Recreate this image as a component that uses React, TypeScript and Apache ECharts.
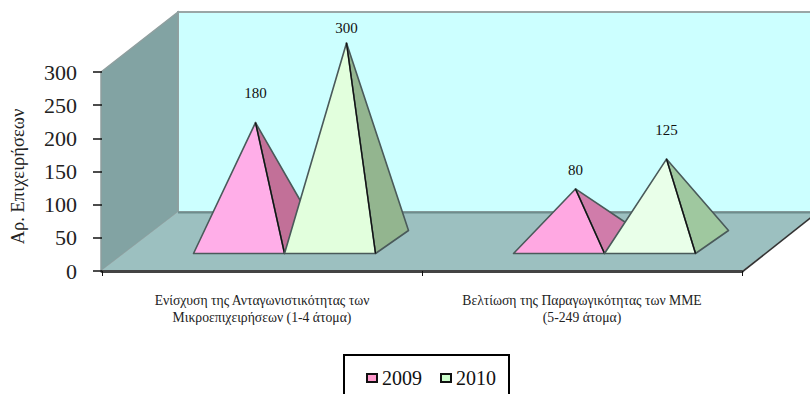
import React, { useEffect, useRef } from "react";
import * as echarts from "echarts";

const categories = [
  "Ενίσχυση της Ανταγωνιστικότητας των\nΜικροεπιχειρήσεων (1-4 άτομα)",
  "Βελτίωση της Παραγωγικότητας των ΜΜΕ\n(5-249 άτομα)",
];
const seriesNames = ["2009", "2010"];
const values2009 = [180, 80];
const values2010 = [300, 125];
const yTicks = { min: 0, max: 300, interval: 50 };
const yAxisTitle = "Αρ. Επιχειρήσεων";

const SERIF = "'Liberation Serif', 'Times New Roman', serif";
const PYR_W = 91;
const FRONT_DX = 22.5; // depth shift of the front base row from band centre
const FRONT_DY = 17.5;
const BACK_DX = 33;
const BACK_DY = 23;
const labelGaps: Record<string, number[]> = { "2009": [30, 19], "2010": [15, 29] };
const faces: Record<string, { front: string[]; side: string[]; offset: number; swatch: string }> = {
  "2009": { front: ["#FFAEE8", "#FFA8E2"], side: ["#C27098", "#D07CAA"], offset: -0.5, swatch: "#FF99CC" },
  "2010": { front: ["#E2FFDD", "#E9FFE9"], side: ["#93B58F", "#9FC89F"], offset: 0.5, swatch: "#CCFFCC" },
};

function pyramidSeries(name: string, values: number[]) {
  const face = faces[name];
  return {
    type: "custom",
    name,
    clip: false,
    z: name === "2009" ? 3 : 4,
    itemStyle: { color: face.swatch },
    data: values.map((v, i) => [i, v]),
    encode: { x: 0, y: 1 },
    renderItem: (_: any, api: any) => {
      const i = api.value(0);
      const v = api.value(1);
      const [bx, y0] = api.coord([i, 0]);
      const [, yv] = api.coord([i, v]);
      const cx = bx + FRONT_DX + face.offset * PYR_W;
      const baseY = y0 - FRONT_DY;
      const L: number[] = [cx - PYR_W / 2, baseY];
      const R: number[] = [cx + PYR_W / 2, baseY];
      const B: number[] = [R[0] + BACK_DX, baseY - BACK_DY];
      const A: number[] = [cx + BACK_DX / 2, yv - FRONT_DY - BACK_DY / 2];
      const edge = { stroke: "#4a5a5a", lineWidth: 1.6, lineJoin: "round" };
      return {
        type: "group",
        children: [
          { type: "polygon", shape: { points: [R, B, A] }, style: { fill: face.side[i], ...edge } },
          { type: "polygon", shape: { points: [L, R, A] }, style: { fill: face.front[i], ...edge } },
          { type: "line", shape: { x1: A[0], y1: A[1], x2: R[0], y2: R[1] }, style: { stroke: "#111", lineWidth: 1.3 } },
          {
            type: "text",
            style: {
              text: String(v),
              x: A[0],
              y: A[1] - labelGaps[name][i],
              align: "center",
              verticalAlign: "middle",
              font: `15px ${SERIF}`,
              fill: "#111",
            },
          },
        ],
      };
    },
  };
}

export default function App() {
  const ref = useRef<HTMLDivElement>(null);
  useEffect(() => {
    document.body.style.margin = "0";
    document.body.style.background = "#fff";
    const chart = echarts.init(ref.current!, undefined, { renderer: "svg" });
    chart.setOption({
      animation: false,
      backgroundColor: "#fff",
      textStyle: { fontFamily: SERIF },
      grid: { left: 101, top: 72, width: 641, height: 199, containLabel: false },
      graphic: {
        elements: [
          {
            type: "polygon",
            z: -10,
            shape: { points: [[178, 12], [818, 12], [818, 212], [178, 212]] },
            style: { fill: "#CCFFFF", stroke: "#9aa6a6", lineWidth: 2 },
          },
          {
            type: "polygon",
            z: -9,
            shape: { points: [[101, 72], [178, 12], [178, 212], [101, 271]] },
            style: { fill: "#82A3A3", stroke: "#8f9f9f", lineWidth: 1.5 },
          },
          {
            type: "polygon",
            z: -9,
            shape: { points: [[101, 271], [178, 212], [818, 212], [742, 271]] },
            style: { fill: "#9CC0C0" },
          },
          {
            type: "line",
            z: -8,
            shape: { x1: 178, y1: 212.5, x2: 818, y2: 212.5 },
            style: { stroke: "#6d8c8c", lineWidth: 2 },
          },
          {
            type: "line",
            z: -8,
            shape: { x1: 742, y1: 272, x2: 818, y2: 212 },
            style: { stroke: "#333", lineWidth: 1.6 },
          },
        ],
      },
      legend: {
        show: true,
        left: 344,
        top: 355,
        data: seriesNames.map((name) => ({ name, itemStyle: { color: faces[name].swatch } })),
        icon: "rect",
        itemWidth: 10,
        itemHeight: 8,
        itemGap: 18,
        padding: [13, 13, 30, 22],
        borderColor: "#000",
        borderWidth: 2,
        backgroundColor: "#fff",
        itemStyle: { borderColor: "#111", borderWidth: 2 },
        textStyle: { fontFamily: SERIF, fontSize: 20, color: "#111" },
      },
      xAxis: {
        type: "category",
        data: categories,
        axisLine: { show: true, lineStyle: { color: "#444", width: 3 } },
        axisTick: { show: true, alignWithLabel: false, length: 5, lineStyle: { color: "#111" } },
        axisLabel: { fontFamily: SERIF, fontSize: 13.7, color: "#222", lineHeight: 17, margin: 21, interval: 0 },
      },
      yAxis: {
        type: "value",
        min: yTicks.min,
        max: yTicks.max,
        interval: yTicks.interval,
        name: yAxisTitle,
        nameLocation: "middle",
        nameRotate: 90,
        nameGap: 75,
        nameTextStyle: { fontFamily: SERIF, fontSize: 18.5, color: "#222", padding: [0, 10, 0, 0] },
        axisLine: { show: false },
        axisTick: { show: true, length: 9, lineStyle: { color: "#111", width: 1.5 } },
        axisLabel: { fontFamily: SERIF, fontSize: 22, color: "#222", margin: 25 },
        splitLine: { show: false },
      },
      series: [pyramidSeries("2009", values2009), pyramidSeries("2010", values2010)],
    });
    return () => chart.dispose();
  }, []);
  return <div ref={ref} style={{ width: 810, height: 394, overflow: "hidden" }} />;
}
